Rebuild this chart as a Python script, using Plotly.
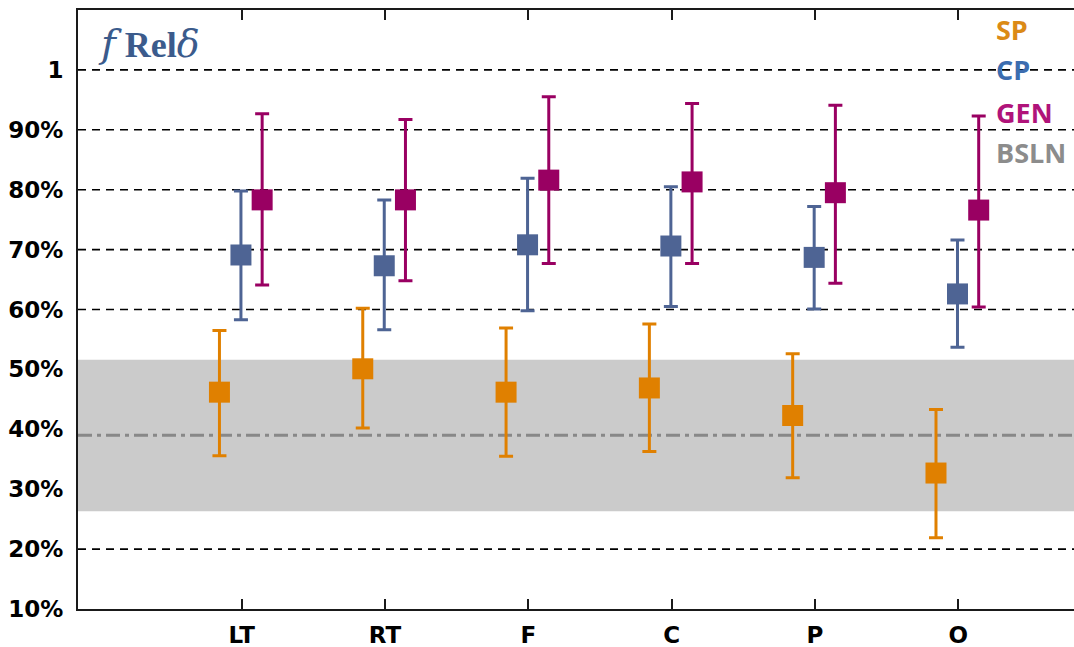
import plotly.graph_objects as go

# ---- data ----
categories = ["LT", "RT", "F", "C", "P", "O"]

sp_mean = [0.462, 0.501, 0.462, 0.469, 0.423, 0.327]
sp_low = [0.356, 0.402, 0.355, 0.363, 0.319, 0.219]
sp_high = [0.565, 0.602, 0.569, 0.576, 0.526, 0.433]

cp_mean = [0.691, 0.673, 0.708, 0.706, 0.687, 0.626]
cp_low = [0.583, 0.566, 0.598, 0.605, 0.601, 0.537]
cp_high = [0.798, 0.783, 0.819, 0.805, 0.772, 0.716]

gen_mean = [0.783, 0.783, 0.816, 0.813, 0.795, 0.766]
gen_low = [0.641, 0.648, 0.677, 0.677, 0.644, 0.604]
gen_high = [0.927, 0.917, 0.955, 0.944, 0.941, 0.923]

bsln_mean = 0.390
bsln_low = 0.263
bsln_high = 0.516

ytick_vals = [0.1, 0.2, 0.3, 0.4, 0.5, 0.6, 0.7, 0.8, 0.9, 1.0]
ytick_text = ["10%", "20%", "30%", "40%", "50%", "60%", "70%", "80%", "90%", "1"]

# ---- styles ----
COL_SP = "#E08000"
COL_CP = "#4E6494"
COL_GEN = "#990062"
OFFSETS = {"SP": -0.155, "CP": -0.005, "GEN": 0.143}

idx = list(range(len(categories)))
fig = go.Figure()


def add_series(name, mean, low, high, color):
    xs = [i + OFFSETS[name] for i in idx]
    fig.add_trace(go.Scatter(
        x=xs, y=mean, mode="markers", name=name,
        marker=dict(symbol="square", size=21, color=color, line=dict(width=0)),
        error_y=dict(type="data", symmetric=False,
                     array=[h - m for h, m in zip(high, mean)],
                     arrayminus=[m - l for m, l in zip(mean, low)],
                     color=color, thickness=3, width=7),
        showlegend=False,
    ))


add_series("SP", sp_mean, sp_low, sp_high, COL_SP)
add_series("CP", cp_mean, cp_low, cp_high, COL_CP)
add_series("GEN", gen_mean, gen_low, gen_high, COL_GEN)

# dashed horizontal grid lines (drawn first so the band covers them)
for v in ytick_vals[1:]:
    fig.add_shape(type="line", xref="paper", yref="y", x0=0, x1=1, y0=v, y1=v,
                  line=dict(color="black", width=1.6, dash="8px,6px"), layer="below")

# baseline band and line
fig.add_shape(type="rect", xref="paper", yref="y", x0=0, x1=1,
              y0=bsln_low, y1=bsln_high, fillcolor="#CBCBCB",
              line=dict(width=0), layer="below")
fig.add_shape(type="line", xref="paper", yref="y", x0=0, x1=1,
              y0=bsln_mean, y1=bsln_mean,
              line=dict(color="#888888", width=3, dash="14px,5px,4px,5px"),
              layer="below")

# legend-like labels
legend_items = [("SP", "#DB8A16", 0.968), ("CP", "#3C6DAF", 0.9015),
                ("GEN", "#B0137A", 0.8297), ("BSLN", "#8C8C8C", 0.7613)]
for txt, col, yp in legend_items:
    fig.add_annotation(text=txt, xref="paper", yref="paper", x=0.9195, y=yp,
                       xanchor="left", yanchor="middle", showarrow=False,
                       font=dict(family="Open Sans", size=27, color=col, weight="bold"))

# title
title_html = ("<span style='font-family:DejaVu Serif;font-size:40px'><i>f</i></span>"
              "<span style='font-size:36px'> <b>Rel</b></span>"
              "<span style='font-family:DejaVu Serif;font-size:38px'><i>δ</i></span>")
fig.add_annotation(text=title_html, xref="paper", yref="paper",
                   x=0.018, y=0.945, xanchor="left", yanchor="middle", showarrow=False,
                   font=dict(family="Liberation Serif", size=36, color="#3B5B8C"))

fig.update_layout(
    width=1074, height=647,
    margin=dict(l=78, r=0, t=10, b=38),
    plot_bgcolor="white", paper_bgcolor="white",
    xaxis=dict(range=[-1.142, 5.808], tickvals=idx, ticktext=categories,
               showgrid=False, zeroline=False,
               showline=True, linecolor="#1a1a1a", linewidth=2, mirror="ticks",
               ticks="inside", ticklen=10, tickwidth=2, tickcolor="#1a1a1a",
               tickfont=dict(family="DejaVu Sans", size=23, color="black", weight="bold"),
               ticklabelstandoff=4),
    yaxis=dict(range=[0.1, 1.1], tickvals=ytick_vals, ticktext=ytick_text,
               showgrid=False, zeroline=False, showline=True, linecolor="#1a1a1a", linewidth=2,
               ticks="", tickfont=dict(family="DejaVu Sans", size=23, color="black", weight="bold"),
               ticklabelstandoff=8),
)

fig.write_html("out.html")
